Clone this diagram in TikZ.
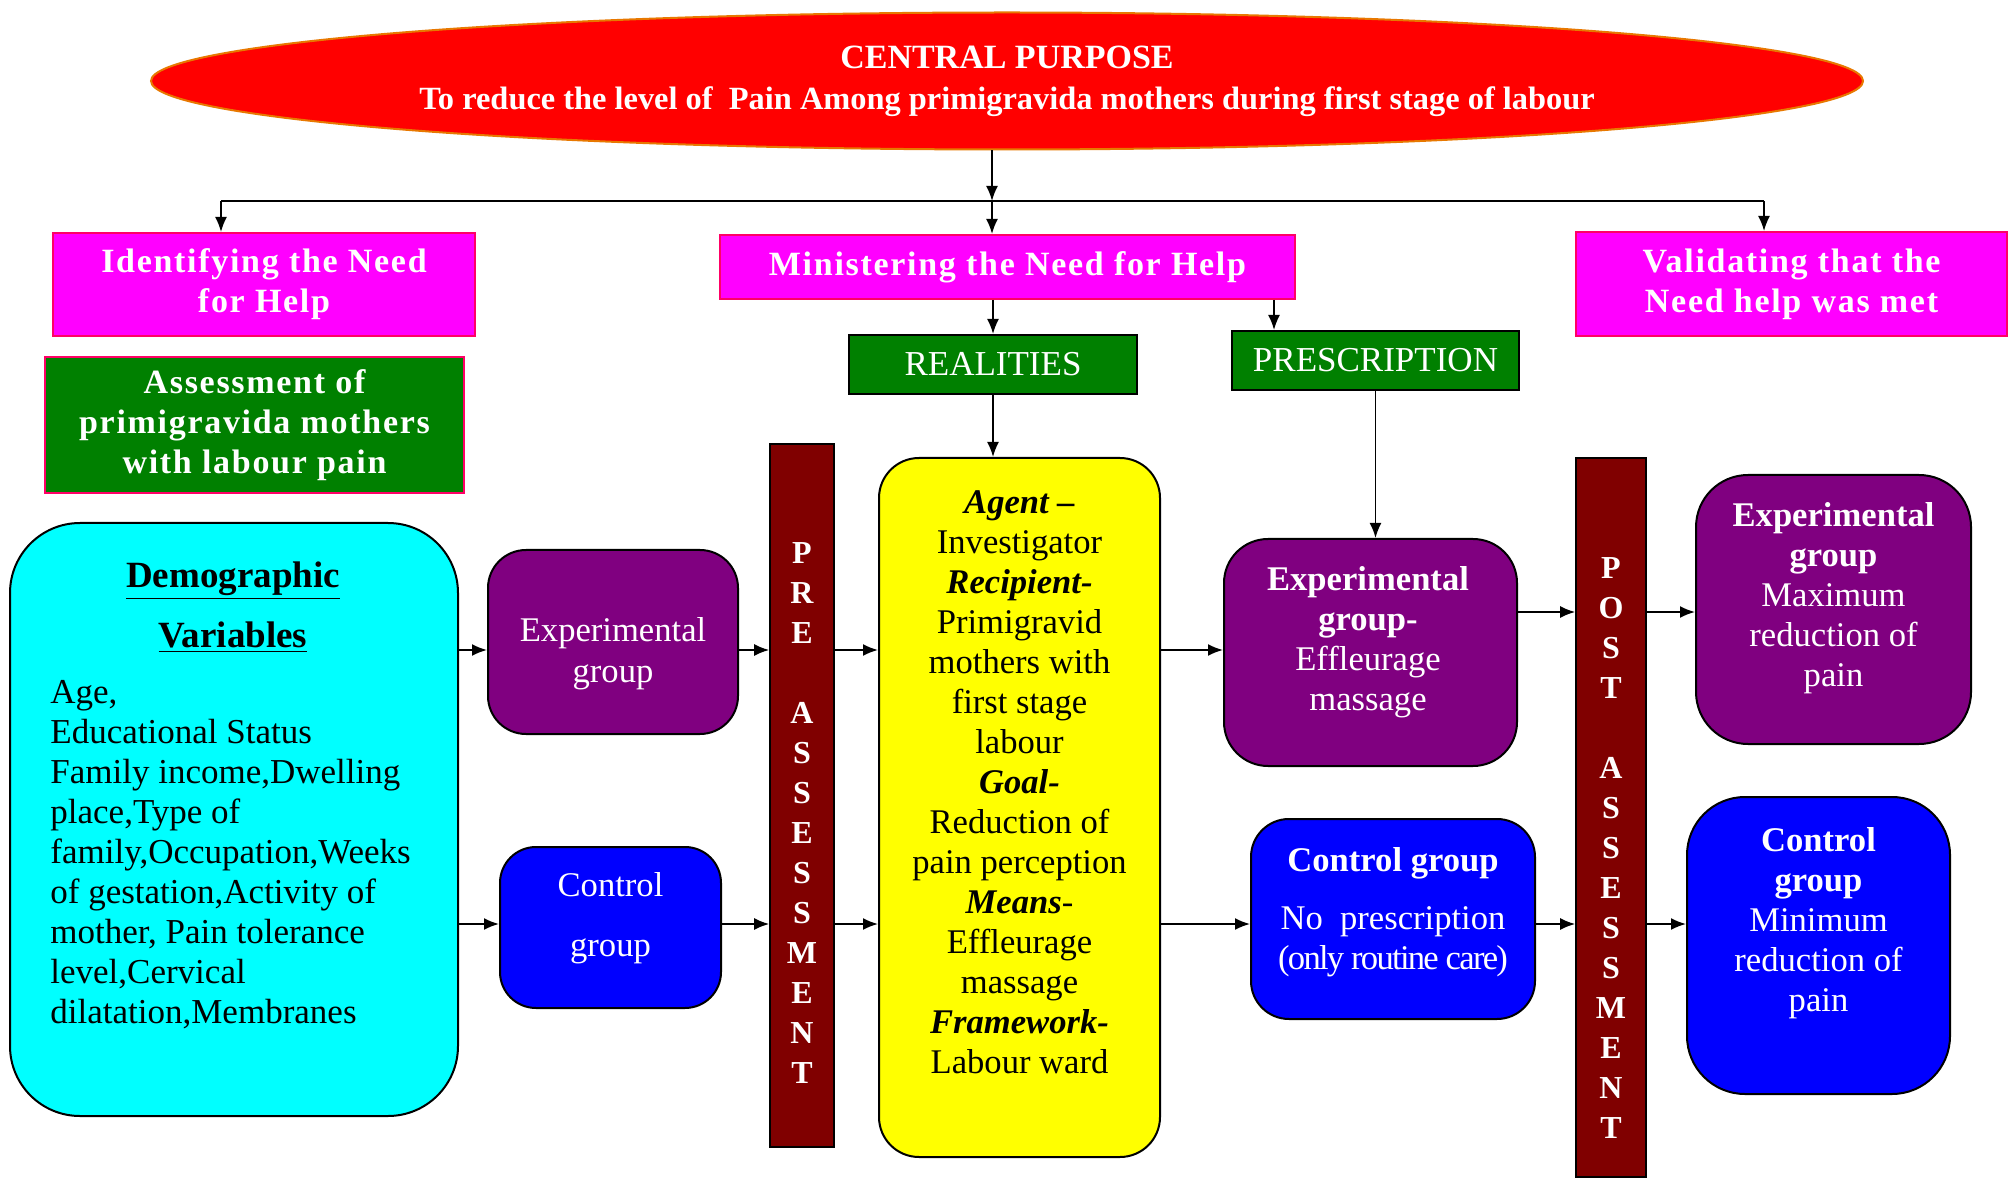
\documentclass[tikz,border=0pt]{standalone}
\usepackage{fontspec}
\setmainfont{Liberation Serif}
\usetikzlibrary{shapes.geometric,arrows.meta}

\definecolor{pinkedge}{HTML}{FF0066}
\definecolor{ovaledge}{HTML}{E87800}
\definecolor{phasepink}{HTML}{FF00FF}
\definecolor{leafgreen}{HTML}{008000}
\definecolor{aquafill}{HTML}{00FFFF}
\definecolor{grpurple}{HTML}{800080}
\definecolor{grblue}{HTML}{0000FF}
\definecolor{planyellow}{HTML}{FFFF00}
\definecolor{barmaroon}{HTML}{800000}

\tikzset{
    arr/.style={-{Latex[length=7.5pt,width=6pt]}, line width=0.9pt},
    phasebox/.style={rectangle, draw=pinkedge, line width=1pt, fill=phasepink, text=white, align=center, inner sep=0pt,
        font=\fontsize{17}{20}\selectfont\bfseries\addfontfeature{LetterSpace=5}},
    greenbox/.style={rectangle, draw=black, line width=1pt, fill=leafgreen, text=white, align=center, inner sep=0pt,
        font=\fontsize{17.5}{20}\selectfont},
    groupbox/.style={rectangle, draw=black, line width=1pt, inner sep=0pt},
    grouptext/.style={align=center, text=white, font=\fontsize{17.3}{20}\selectfont},
    barbox/.style={rectangle, draw=black, line width=0.8pt, fill=barmaroon, inner sep=0pt},
    bartext/.style={text=white, align=center, font=\fontsize{16}{20}\selectfont\bfseries}
}

\begin{document}
\begin{tikzpicture}[x=0.5pt, y=-0.5pt]
    \useasboundingbox (0,0) rectangle (2012,1181);

    \node[ellipse, draw=ovaledge, line width=1pt, fill=red, text=white, minimum width=856pt, minimum height=68.5pt,
        inner sep=0pt, align=center, font=\fontsize{16.2}{20.5}\selectfont\bfseries] (purpose) at (1007,81)
        {{\fontsize{17}{20.5}\selectfont CENTRAL PURPOSE}\\To reduce the level of\ \ Pain Among primigravida mothers during first stage of labour};

    \coordinate (bus) at (992,201);
    \coordinate (busL) at (221,201);
    \coordinate (busR) at (1764,201);
    \coordinate (rowA) at (0,650);
    \coordinate (rowB) at (0,924);
    \coordinate (rowC) at (0,612);

    \node[phasebox, minimum width=211pt, minimum height=51.5pt] (ident) at (264,284.5) {Identifying the Need\\for Help};
    \node[phasebox, minimum width=287.5pt, minimum height=32pt] (minister) at (1007.5,267) {Ministering the Need for Help};
    \node[phasebox, minimum width=215.5pt, minimum height=52pt] (valid) at (1791.5,284) {Validating that the\\Need help was met};

    \node[phasebox, fill=leafgreen, minimum width=209.5pt, minimum height=68pt] (assess) at (254.5,425)
        {Assessment of\\primigravida mothers\\with labour pain};
    \node[greenbox, minimum width=144pt, minimum height=29.5pt] (realities) at (993,364.5) {REALITIES};
    \node[greenbox, minimum width=143.5pt, minimum height=29.5pt] (prescription) at (1375.5,360.5) {PRESCRIPTION};

    % left column
    \node[rectangle, draw=black, line width=1pt, fill=aquafill, rounded corners=35pt,
        minimum width=224pt, minimum height=296.5pt] (demo) at (234,819.5) {};
    \node[align=center, font=\fontsize{18.5}{30}\selectfont\bfseries] (demohead) at (233,607)
        {\underline{Demographic}\\\underline{Variables}};
    \node[anchor=west, align=left, inner sep=0pt, font=\fontsize{17.5}{20}\selectfont] (demolist) at (50,855)
        {Age,\\Educational Status\\Family income,Dwelling\\place,Type of\\family,Occupation,Weeks\\of gestation,Activity of\\mother, Pain tolerance\\level,Cervical\\dilatation,Membranes};

    \node[groupbox, fill=grpurple, rounded corners=19pt, minimum width=125pt, minimum height=92pt] (expL) at (613,642) {};
    \node[grouptext, font=\fontsize{17.3}{20.5}\selectfont] (expLtext) at (613,654) {Experimental\\group};
    \node[groupbox, fill=grblue, rounded corners=18pt, minimum width=110.5pt, minimum height=80.5pt] (ctrlL) at (610.5,927.5) {};
    \node[grouptext, font=\fontsize{17.3}{30}\selectfont] (ctrlLtext) at (610.5,918) {Control\\group};

    \node[barbox, minimum width=32pt, minimum height=351.5pt] (pre) at (802,795.5) {};
    \node[bartext] (pretext) at (802,813) {P\\R\\E\\[20pt]A\\S\\S\\E\\S\\S\\M\\E\\N\\T};

    % realities
    \node[rectangle, draw=black, line width=1pt, fill=planyellow, rounded corners=20pt,
        minimum width=140.5pt, minimum height=349.5pt] (plan) at (1019.5,807.5) {};
    \node[align=center, font=\fontsize{17.3}{20}\selectfont] (plantext) at (1019.5,782)
        {\textbf{\textit{Agent –}}\\Investigator\\\textbf{\textit{Recipient-}}\\Primigravid\\mothers with\\first stage\\labour\\
        \textbf{\textit{Goal-}}\\Reduction of\\pain perception\\\textbf{\textit{Means}}-\\Effleurage\\massage\\
        \textbf{\textit{Framework-}}\\Labour ward};

    \node[groupbox, fill=grpurple, rounded corners=22pt, minimum width=146.5pt, minimum height=113.5pt] (expM) at (1370.5,652.5) {};
    \node[grouptext] (expMtext) at (1368,642)
        {\textbf{Experimental}\\\textbf{group-}\\Effleurage\\massage};
    \node[groupbox, fill=grblue, rounded corners=19pt, minimum width=142pt, minimum height=100pt] (ctrlM) at (1393,919) {};
    \node[grouptext] (ctrlMtext) at (1393,912)
        {\textbf{Control group}\\[9pt]No\ \ prescription\\{\addfontfeature{LetterSpace=-5}(only routine care)}};

    \node[barbox, minimum width=35pt, minimum height=359.5pt] (post) at (1611,817.5) {};
    \node[bartext] (posttext) at (1611,848) {P\\O\\S\\T\\[20pt]A\\S\\S\\E\\S\\S\\M\\E\\N\\T};

    % validation
    \node[groupbox, fill=grpurple, rounded corners=26pt, minimum width=137.5pt, minimum height=134.5pt] (expR) at (1833.5,609.5) {};
    \node[grouptext] (expRtext) at (1833.5,598)
        {\textbf{Experimental}\\\textbf{group}\\Maximum\\reduction of\\pain};
    \node[groupbox, fill=grblue, rounded corners=29pt, minimum width=131.5pt, minimum height=148.5pt] (ctrlR) at (1818.5,945.5) {};
    \node[grouptext] (ctrlRtext) at (1818.5,923)
        {\textbf{Control}\\\textbf{group}\\Minimum\\reduction of\\pain};

    % connectors
    \draw[arr] (bus |- purpose.south) -- (bus);
    \draw[line width=0.9pt] (busL) -- (busR);
    \draw[arr] (busL) -- (busL |- ident.north);
    \draw[arr] (bus) -- (bus |- minister.north);
    \draw[arr] (busR) -- (busR |- valid.north);

    \coordinate (minR) at ([xshift=-11pt]minister.south east);
    \draw[arr] (realities.north |- minister.south) -- (realities.north);
    \draw[arr] (minR) -- (minR |- prescription.north);
    \draw[arr] (realities.south) -- (realities.south |- plan.north);
    \draw[arr] (prescription.south) -- (prescription.south |- expM.north);

    \draw[arr] (demo.east |- rowA) -- (expL.west |- rowA);
    \draw[arr] (demo.east |- rowB) -- (ctrlL.west |- rowB);
    \draw[arr] (expL.east |- rowA) -- (pre.west |- rowA);
    \draw[arr] (ctrlL.east |- rowB) -- (pre.west |- rowB);
    \draw[arr] (pre.east |- rowA) -- (plan.west |- rowA);
    \draw[arr] (pre.east |- rowB) -- (plan.west |- rowB);

    \draw[arr] (plan.east |- rowA) -- (expM.west |- rowA);
    \draw[arr] (plan.east |- rowB) -- (ctrlM.west |- rowB);
    \draw[arr] (expM.east |- rowC) -- (post.west |- rowC);
    \draw[arr] (post.east |- rowC) -- (expR.west |- rowC);
    \draw[arr] (ctrlM.east |- rowB) -- (post.west |- rowB);
    \draw[arr] (post.east |- rowB) -- (ctrlR.west |- rowB);

\end{tikzpicture}
\end{document}
